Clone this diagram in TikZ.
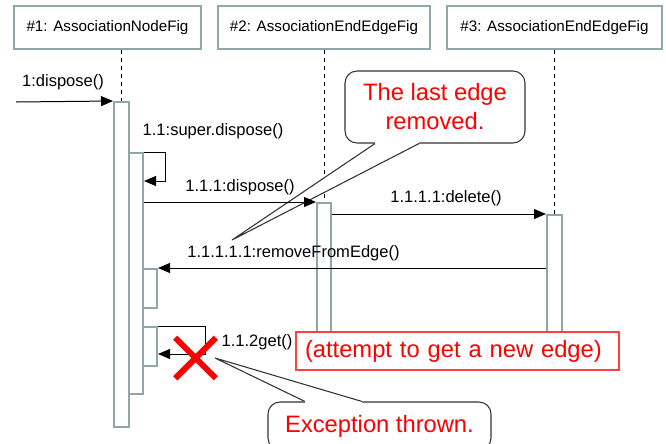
\documentclass[tikz,border=0pt]{standalone}
\usepackage{fontspec}
\setmainfont{Liberation Sans}
\usetikzlibrary{arrows.meta,shapes.misc,positioning}

\definecolor{barcol}{HTML}{8FA6AB}
\definecolor{notegray}{HTML}{333333}

\tikzset{
  object/.style={draw=barcol, line width=1.9pt, fill=white, inner sep=0pt,
    minimum height=32.25pt, font=\fontsize{11.4}{13}\selectfont},
  act/.style={draw=barcol, line width=1.5pt, fill=white, inner sep=0pt},
  lifeline/.style={dashed, line width=0.6pt},
  msg/.style={-{Triangle[length=9pt,width=7.5pt]}, line width=0.75pt},
  lbl/.style={inner sep=0pt, font=\fontsize{12.4}{14}\selectfont},
  note/.style={draw=notegray, line width=0.8pt, rounded corners=9pt, fill=white,
    inner sep=0pt, align=center, text=red, font=\fontsize{17.8}{21.75}\selectfont},
  pointer/.style={draw=notegray, line width=0.8pt},
}

\begin{document}
\begin{tikzpicture}[x=0.75pt, y=-0.75pt]
  \useasboundingbox (0,0) rectangle (666,443);
  % objects
  \node[object, minimum width=140.25pt] (obj1) at (107.5,27.5) {\#1: AssociationNodeFig};
  \node[object, minimum width=159pt] (obj2) at (324,27.5) {\#2: AssociationEndEdgeFig};
  \node[object, minimum width=161.25pt] (obj3) at (554.5,27.5) {\#3: AssociationEndEdgeFig};

  % activations
  \node[act, minimum width=11.25pt, minimum height=243.75pt] (act1) at (121.5,264.5) {};
  \node[act, minimum width=10.5pt, minimum height=180.75pt] (act2) at (136,273.5) {};
  \node[act, minimum width=10.5pt, minimum height=29.25pt] (act3) at (150,288.5) {};
  \node[act, minimum width=10.5pt, minimum height=29.25pt] (act4) at (150,346.5) {};
  \node[act, minimum width=10.5pt, minimum height=110.25pt] (act5) at (324,276.5) {};
  \node[act, minimum width=11.25pt, minimum height=101.25pt] (act6) at (554.5,282.5) {};

  \draw[lifeline] (obj1.south -| act1.north) -- (act1.north);
  \draw[lifeline] (obj2.south -| act5.north) -- (act5.north);
  \draw[lifeline] (obj3.south -| act6.north) -- (act6.north);

  % notes
  \node[note, minimum width=135pt, minimum height=54pt] (lastnote) at (435,107) {The last edge\\removed.};
  \node[note, minimum width=167.25pt, minimum height=36pt] (excnote) at (379.5,426) {Exception thrown.};
  \coordinate (tip1) at (232,240);
  \coordinate (tip2) at (215,358);
  \fill[white] ([xshift=-45pt,yshift=2pt]lastnote.south) -- ([xshift=-45pt]lastnote.south)
    -- (tip1) -- ([xshift=-12pt]lastnote.south) -- ([xshift=-12pt,yshift=2pt]lastnote.south) -- cycle;
  \draw[pointer] ([xshift=-45pt]lastnote.south) -- (tip1) -- ([xshift=-12pt]lastnote.south);
  \fill[white] ([xshift=-55.9pt,yshift=-2pt]excnote.north) -- ([xshift=-55.9pt]excnote.north)
    -- (tip2) -- ([xshift=-13.1pt]excnote.north) -- ([xshift=-13.1pt,yshift=-2pt]excnote.north) -- cycle;
  \draw[pointer] ([xshift=-55.9pt]excnote.north) -- (tip2) -- ([xshift=-13.1pt]excnote.north);

  % messages
  \coordinate (start) at (16,102);
  \draw[msg] (start) -- (act1.north west);
  \draw[msg] (act2.north east) -| ([xshift=15.75pt,yshift=-21.75pt]act2.north east)
    -- ([yshift=-21.75pt]act2.north east);
  \draw[msg] (act2.east |- act5.north) -- (act5.north west);
  \draw[msg] (act5.east |- act6.north) -- (act6.north west);
  \draw[msg] (act6.west |- act3.north) -- (act3.north east);
  \draw[msg] (act4.north east) -| ([xshift=35.25pt,yshift=-21pt]act4.north east)
    -- ([yshift=-21pt]act4.north east);

  \node[lbl] (l1) at (63,82) {1:dispose()};
  \node[lbl] (l11) at (213,131) {1.1:super.dispose()};
  \node[lbl] (l111) at (240,187) {1.1.1:dispose()};
  \node[lbl] (l1111) at (446,198) {1.1.1.1:delete()};
  \node[lbl] (l11111) at (293.5,253) {1.1.1.1.1:removeFromEdge()};
  \node[lbl] (l112) at (257,342) {1.1.2get()};

  % failed call
  \node[draw=red!75, fill=white, line width=0.8pt, minimum width=242.25pt, minimum height=28.5pt,
    text width=228.75pt, inner xsep=6.75pt, align=left, text=red,
    font=\fontsize{17.8}{21}\selectfont] (attempt) at (457.5,351) {(attempt to get a new edge)};
  \node[cross out, draw=red, line width=4.5pt, minimum width=26pt, minimum height=26pt,
    inner sep=0pt] (kill) at (195.5,358) {};
\end{tikzpicture}
\end{document}
